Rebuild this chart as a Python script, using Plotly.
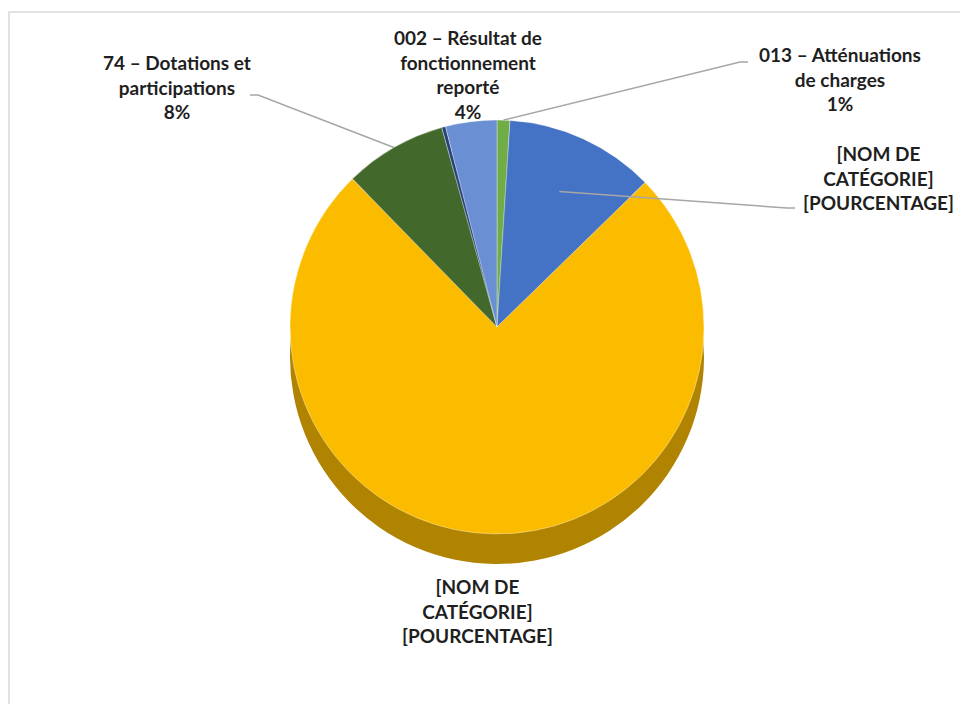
import plotly.graph_objects as go
import math

# ---- data (clockwise from 12 o'clock) ----
categories = [
    "013 – Atténuations de charges",
    "[NOM DE CATÉGORIE]",
    "[NOM DE CATÉGORIE] ",
    "74 – Dotations et participations",
    "Autres",
    "002 – Résultat de fonctionnement reporté",
]
values = [1.0, 11.7, 75.0, 8.0, 0.3, 4.0]
label_texts = [
    "013 – Atténuations<br>de charges<br>1%",
    "[NOM DE<br>CATÉGORIE]<br>[POURCENTAGE]",
    "[NOM DE<br>CATÉGORIE]<br>[POURCENTAGE]",
    "74 – Dotations et<br>participations<br>8%",
    None,
    "002 – Résultat de<br>fonctionnement<br>reporté<br>4%",
]
colors = ["#70AD47", "#4472C4", "#FBBC00", "#43682B", "#264478", "#6A8FD3"]
rim_colors = ["#4E7A32", "#2F5190", "#B08300", "#2E4A1E", "#1A3055", "#4A66A0"]

OFF = 8  # page body margin
W, H = 960, 696
cx, cy, r = 497, 327, 207
depth = 30

def X(px):
    return (px - OFF) / W

def Y(py):
    return 1 - (py - OFF) / H

def dom(cx_, cy_, r_):
    return dict(x=[X(cx_ - r_), X(cx_ + r_)], y=[Y(cy_ + r_), Y(cy_ - r_)])

fig = go.Figure()
# rim (depth) layer
fig.add_trace(go.Pie(
    labels=categories, values=values, sort=False, direction="clockwise",
    rotation=0, textinfo="none", hoverinfo="skip", showlegend=False,
    marker=dict(colors=rim_colors, line=dict(width=0)),
    domain=dom(cx, cy + depth, r),
))
# top layer
fig.add_trace(go.Pie(
    labels=categories, values=values, sort=False, direction="clockwise",
    rotation=0, textinfo="none", showlegend=False,
    marker=dict(colors=colors, line=dict(color="rgba(255,255,255,0.6)", width=0.6)),
    domain=dom(cx, cy, r),
))

# label positions (pixel) and leader line starts
label_pos = {
    0: (840, 79, (748, 62)),
    1: (878, 178, (795, 208)),
    2: (477, 611, None),
    3: (177, 87, (250, 95)),
    5: (468, 75, None),
}
total = sum(values)
cum = 0
mids = []
for v in values:
    mids.append((cum + v / 2) / total * 360)
    cum += v

annotations = []
shapes = []
for i, (lx, ly, lead) in label_pos.items():
    annotations.append(dict(
        x=X(lx), y=Y(ly), xref="paper", yref="paper",
        text="<b>" + label_texts[i].replace("<br>", "</b><br><b>") + "</b>",
        showarrow=False, align="center",
        font=dict(family="Lato, Open Sans, sans-serif", size=19, color="#1F1F1F"),
        xanchor="center", yanchor="middle",
    ))
    if lead is not None:
        a = math.radians(mids[i])
        rr = r if i != 1 else r * 0.72
        px, py = cx + rr * math.sin(a), cy - rr * math.cos(a)
        sx, sy = lead
        ex = sx - 8 if sx > cx else sx + 8
        path = f"M {X(sx)},{Y(sy)} L {X(ex)},{Y(sy)} L {X(px)},{Y(py)}"
        shapes.append(dict(type="path", xref="paper", yref="paper", path=path,
                           line=dict(color="#A6A6A6", width=1.5)))

# chart border
shapes.append(dict(type="rect", xref="paper", yref="paper",
                   x0=X(9), x1=1.02, y0=-0.02, y1=Y(12),
                   line=dict(color="#D9D9D9", width=1.5), fillcolor="rgba(0,0,0,0)",
                   layer="below"))

fig.update_layout(
    width=W, height=H,
    margin=dict(l=0, r=0, t=0, b=0),
    paper_bgcolor="white", plot_bgcolor="white",
    annotations=annotations, shapes=shapes,
    showlegend=False,
)
fig.write_html("out.html")
